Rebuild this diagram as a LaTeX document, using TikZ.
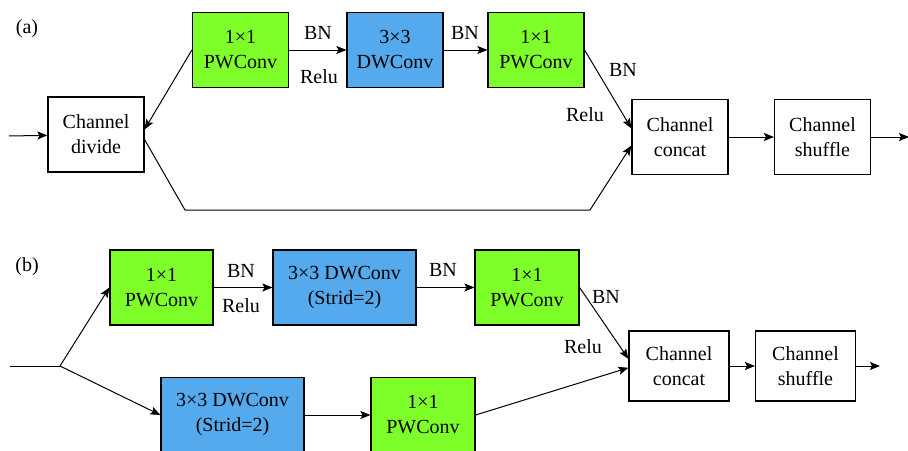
\documentclass[tikz,border=0pt]{standalone}
\usepackage{fontspec}
\setmainfont{Liberation Serif}
\newfontfamily\blockfont{Liberation Serif}
\usetikzlibrary{arrows.meta}
\definecolor{pwgreen}{RGB}{127,255,42}
\definecolor{dwblue}{RGB}{85,170,238}

\begin{document}
\begin{tikzpicture}[x=1pt,y=-1pt,line width=1pt,
		font=\blockfont\fontsize{20}{25}\selectfont,
		>={Stealth[length=10pt,width=8pt,inset=2pt]},
		blk/.style={draw,line width=1.2pt,minimum width=96pt,minimum height=75pt,inner sep=0pt,align=center},
		pw/.style={blk,fill=pwgreen},
		dw/.style={blk,fill=dwblue}]
	\useasboundingbox (0,0) rectangle (908,450);
	% (a) basic unit
	\node (taga) at (27,29) {(a)};
	\node[blk] (dividea) at (96,134.5) {Channel\\divide};
	\node[pw] (pw1a) at (240.5,50) {1×1\\PWConv};
	\node[dw] (dwa) at (395,50) {3×3\\DWConv};
	\node[pw] (pw2a) at (536,50) {1×1\\PWConv};
	\node[blk] (concata) at (680,137) {Channel\\concat};
	\node[blk] (shufflea) at (822.5,137) {Channel\\shuffle};
	\coordinate (ina) at (9,136);
	\coordinate (outa) at (909,137);
	\coordinate (bya1) at (185,210);
	\coordinate (bya2) at (590,210);
	\draw[->] (ina) -- (dividea);
	\draw[->] (pw1a.west) -- (dividea.6);
	\draw[->] (pw1a) -- (dwa);
	\draw[->] (dwa) -- (pw2a);
	\draw[->] (pw2a.east) -- (concata.170);
	\draw[->] (dividea.-6) -- (bya1) -- (bya2) -- (concata.190);
	\draw[->] (concata) -- (shufflea);
	\draw[->] (shufflea) -- (outa);
	\node (bn1a) at (318,33) {BN};
	\node (relu1a) at (319,77) {Relu};
	\node (bn2a) at (465,33) {BN};
	\node (bn3a) at (623,70) {BN};
	\node (relu3a) at (585,115) {Relu};
	% (b) down-sampling unit
	\node (tagb) at (27,267) {(b)};
	\node[pw,minimum width=103pt] (pw1b) at (161.5,287.5) {1×1\\PWConv};
	\node[dw,minimum width=143pt] (dw1b) at (344.5,287.5) {3×3 DWConv\\(Strid=2)};
	\node[pw,minimum width=104pt] (pw2b) at (527,287.5) {1×1\\PWConv};
	\node[dw,minimum width=143pt] (dw3b) at (232.5,415) {3×3 DWConv\\(Strid=2)};
	\node[pw,minimum width=104pt] (pw3b) at (423,415) {1×1\\PWConv};
	\node[blk,minimum width=100pt,minimum height=70pt] (concatb) at (679,366) {Channel\\concat};
	\node[blk,minimum width=100pt,minimum height=70pt] (shuffleb) at (805.5,366) {Channel\\shuffle};
	\coordinate (inb) at (10,366);
	\coordinate (splitb) at (60,366);
	\coordinate (outb) at (880,366);
	\draw (inb) -- (splitb);
	\draw[->] (splitb) -- (pw1b.west);
	\draw[->] (splitb) -- (dw3b.west);
	\draw[->] (pw1b) -- (dw1b);
	\draw[->] (dw1b) -- (pw2b);
	\draw[->] (pw2b.east) -- (concatb.172);
	\draw[->] (dw3b) -- (pw3b);
	\draw[->] (pw3b.east) -- (concatb.182);
	\draw[->] (concatb) -- (shuffleb);
	\draw[->] (shuffleb) -- (outb);
	\node (bn1b) at (241,271) {BN};
	\node (relu1b) at (241,306) {Relu};
	\node (bn2b) at (443,270) {BN};
	\node (bn3b) at (606,297) {BN};
	\node (relu3b) at (583,347) {Relu};
\end{tikzpicture}
\end{document}
